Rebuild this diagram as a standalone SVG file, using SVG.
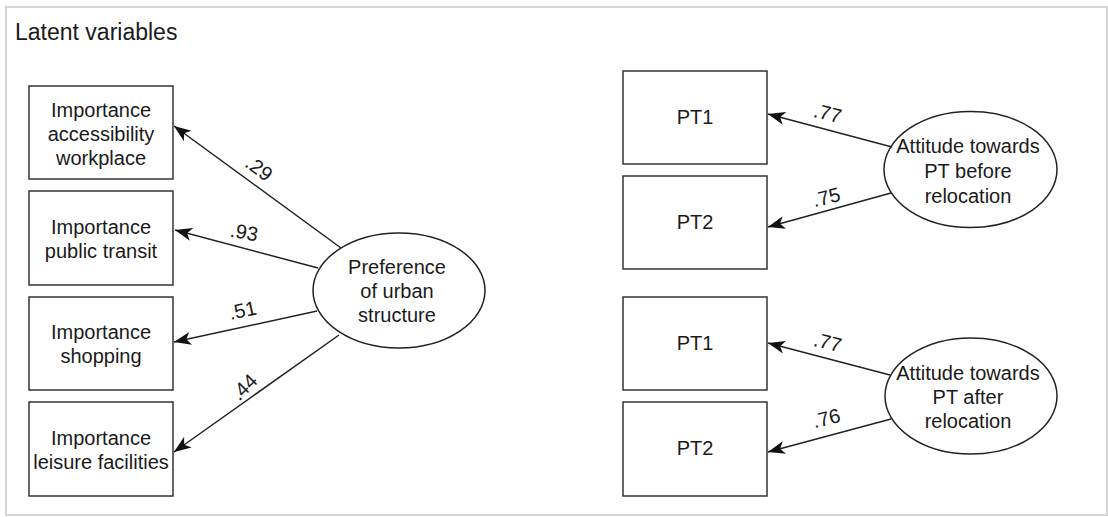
<svg xmlns="http://www.w3.org/2000/svg" width="1108" height="517" viewBox="0 0 1108 517">
<defs>
<style>
.frame{fill:#fff;stroke:#d6d6d6;stroke-width:2}
.box{fill:#fff;stroke:#333;stroke-width:1.5}
.ell{fill:#fff;stroke:#222;stroke-width:1.5}
.t{font-family:"Liberation Sans",Arial,sans-serif;font-size:20px;fill:#1a1a1a;text-anchor:middle}
.lbl{font-family:"Liberation Sans",Arial,sans-serif;font-size:20px;fill:#1a1a1a;text-anchor:middle}
.title{font-family:"Liberation Sans",Arial,sans-serif;font-size:23px;fill:#1a1a1a}
.edge{stroke:#222;stroke-width:1.5;fill:none;marker-end:url(#arr)}
</style>
<marker id="arr" markerUnits="userSpaceOnUse" markerWidth="20" markerHeight="14" refX="17" refY="6.5" orient="auto">
<path d="M0,0 L17,6.5 L0,13 L4.5,6.5 z" fill="#111"/>
</marker>
</defs>
<rect class="frame" x="6" y="7" width="1101" height="508"/>
<text class="title" x="15" y="40">Latent variables</text>

<g id="box-workplace">
<rect class="box" x="29" y="86" width="144" height="93"/>
<text class="t" x="101" y="117">Importance</text>
<text class="t" x="101" y="141">accessibility</text>
<text class="t" x="101" y="165">workplace</text>
</g>
<g id="box-transit">
<rect class="box" x="29" y="191" width="144" height="94"/>
<text class="t" x="101" y="234">Importance</text>
<text class="t" x="101" y="258">public transit</text>
</g>
<g id="box-shopping">
<rect class="box" x="29" y="297" width="144" height="93"/>
<text class="t" x="101" y="339">Importance</text>
<text class="t" x="101" y="363">shopping</text>
</g>
<g id="box-leisure">
<rect class="box" x="29" y="402" width="144" height="94"/>
<text class="t" x="101" y="445">Importance</text>
<text class="t" x="101" y="469">leisure facilities</text>
</g>
<g id="ell-urban">
<ellipse class="ell" cx="399" cy="290.5" rx="86" ry="57.5"/>
<text class="t" x="397" y="274">Preference</text>
<text class="t" x="397" y="298">of urban</text>
<text class="t" x="397" y="322">structure</text>
</g>

<g id="box-pt1-before">
<rect class="box" x="623" y="71" width="144" height="93"/>
<text class="t" x="695" y="124">PT1</text>
</g>
<g id="box-pt2-before">
<rect class="box" x="623" y="176" width="144" height="93"/>
<text class="t" x="695" y="229">PT2</text>
</g>
<g id="ell-before">
<ellipse class="ell" cx="970.5" cy="169.5" rx="86.5" ry="58"/>
<text class="t" x="968" y="153">Attitude towards</text>
<text class="t" x="968" y="178">PT before</text>
<text class="t" x="968" y="203">relocation</text>
</g>
<g id="box-pt1-after">
<rect class="box" x="623" y="297" width="144" height="93"/>
<text class="t" x="695" y="350">PT1</text>
</g>
<g id="box-pt2-after">
<rect class="box" x="623" y="402" width="144" height="94"/>
<text class="t" x="695" y="455">PT2</text>
</g>
<g id="ell-after">
<ellipse class="ell" cx="971" cy="396" rx="86" ry="58"/>
<text class="t" x="968" y="380">Attitude towards</text>
<text class="t" x="968" y="404">PT after</text>
<text class="t" x="968" y="428">relocation</text>
</g>

<g id="connectors">
<path class="edge" d="M341,248 L174,126"/>
<path class="edge" d="M318,268 L175,230"/>
<path class="edge" d="M317,311 L174,342"/>
<path class="edge" d="M339,335 L174,452"/>
<path class="edge" d="M892,147 L768,114"/>
<path class="edge" d="M891,193 L768,227"/>
<path class="edge" d="M890,375 L768,343"/>
<path class="edge" d="M891,419 L768,452"/>
<text class="lbl" transform="translate(255,174) rotate(36)">.29</text>
<text class="lbl" transform="translate(243,239) rotate(10)">.93</text>
<text class="lbl" transform="translate(244,317) rotate(-12)">.51</text>
<text class="lbl" transform="translate(249,392) rotate(-45)">.44</text>
<text class="lbl" transform="translate(826,120) rotate(14)">.77</text>
<text class="lbl" transform="translate(828,204) rotate(-14)">.75</text>
<text class="lbl" transform="translate(826,349) rotate(14)">.77</text>
<text class="lbl" transform="translate(828,425) rotate(-14)">.76</text>
</g>
</svg>
